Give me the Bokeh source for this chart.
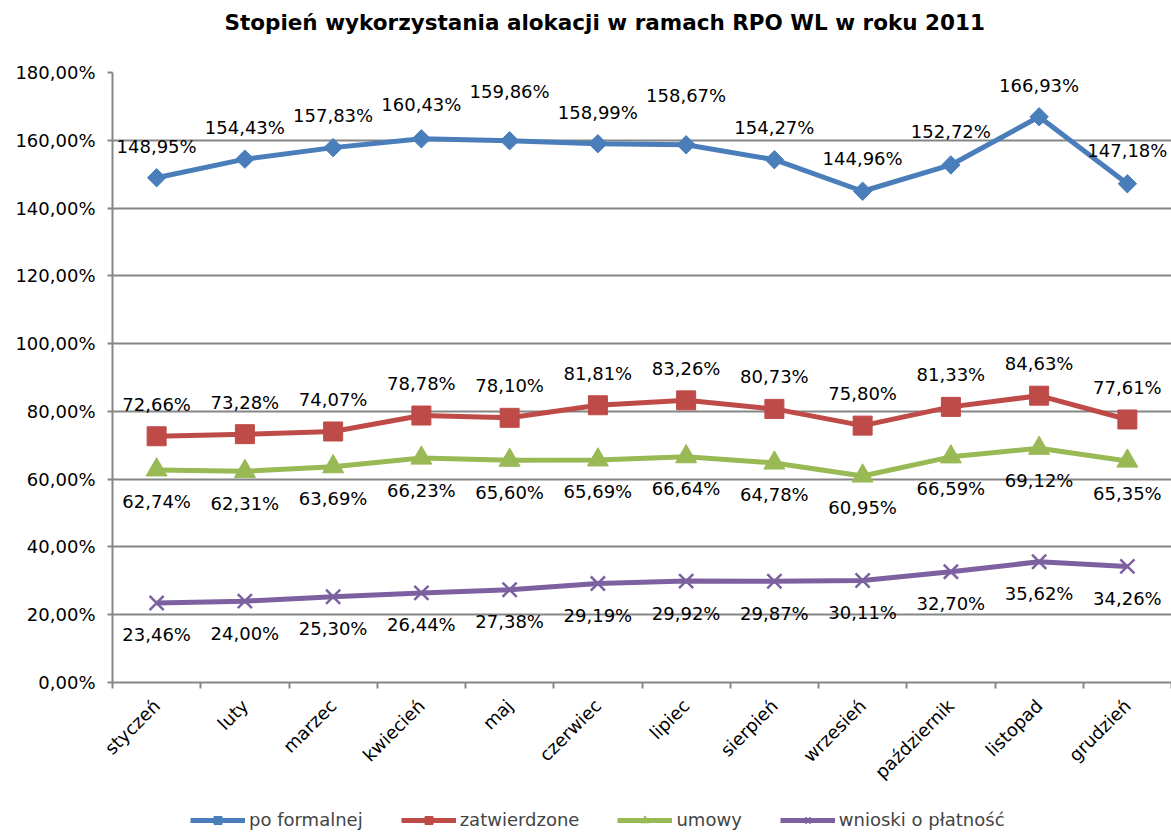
import math
from bokeh.plotting import figure
from bokeh.layouts import column
from bokeh.models import (Range1d, FixedTicker, Legend, LegendItem, ColumnDataSource, Title)
from bokeh.core.properties import value
from bokeh.embed import file_html
from bokeh.resources import INLINE

months = ["styczeń", "luty", "marzec", "kwiecień", "maj", "czerwiec", "lipiec",
          "sierpień", "wrzesień", "październik", "listopad", "grudzień"]
po_formalnej = [148.95, 154.43, 157.83, 160.43, 159.86, 158.99, 158.67, 154.27, 144.96, 152.72, 166.93, 147.18]
zatwierdzone = [72.66, 73.28, 74.07, 78.78, 78.10, 81.81, 83.26, 80.73, 75.80, 81.33, 84.63, 77.61]
umowy = [62.74, 62.31, 63.69, 66.23, 65.60, 65.69, 66.64, 64.78, 60.95, 66.59, 69.12, 65.35]
wnioski = [23.46, 24.00, 25.30, 26.44, 27.38, 29.19, 29.92, 29.87, 30.11, 32.70, 35.62, 34.26]
series_names = ["po formalnej", "zatwierdzone", "umowy", "wnioski o płatność"]
y_ticks = [0, 20, 40, 60, 80, 100, 120, 140, 160, 180]
y_tick_labels = ["0,00%", "20,00%", "40,00%", "60,00%", "80,00%", "100,00%",
                 "120,00%", "140,00%", "160,00%", "180,00%"]

# label vertical offsets (layout only)
blue_dy = [-31, -32, -32, -34, -49, -31, -49, -32, -33, -33, -31, -33]

FONT = "DejaVu Sans"
GRID = "#868686"
FS = "18px"

def fmt(v):
    return ("%.2f%%" % v).replace(".", ",")

xs = [i + 0.5 for i in range(len(months))]

p = figure(width=1171, height=806, output_backend="svg", toolbar_location=None,
           x_range=Range1d(0, len(months)), y_range=Range1d(0, 180),
           min_border_left=112, min_border_right=0, min_border_top=72, min_border_bottom=124)
p.title = None
spacer = Title(text=" ", text_font=FONT, text_font_size="31px", standoff=0)
p.add_layout(spacer, "above")
t = Title(text="Stopień wykorzystania alokacji w ramach RPO WL w roku 2011",
          text_font=FONT, text_font_size="21.5px", text_font_style="bold",
          align="left", offset=112, standoff=0, text_color="black")
p.add_layout(t, "above")
p.outline_line_color = None
p.background_fill_color = "white"
p.border_fill_color = "white"

# axes
p.xaxis.ticker = FixedTicker(ticks=xs, minor_ticks=list(range(len(months) + 1)))
p.xaxis.major_label_overrides = {x: m for x, m in zip(xs, months)}
p.xaxis.major_label_orientation = math.pi / 4
p.xaxis.major_tick_line_color = None
p.xaxis.minor_tick_line_color = GRID
p.xaxis.minor_tick_line_width = 2
p.xaxis.minor_tick_out = 6
p.xaxis.minor_tick_in = 0
p.xaxis.axis_line_color = GRID
p.xaxis.axis_line_width = 2
p.xaxis.major_label_text_font = FONT
p.xaxis.major_label_text_font_size = FS
p.xaxis.major_label_text_color = "black"
p.xaxis.major_label_standoff = 14

p.yaxis.ticker = FixedTicker(ticks=y_ticks)
p.yaxis.major_label_overrides = {t_: l for t_, l in zip(y_ticks, y_tick_labels)}
p.yaxis.major_tick_line_color = GRID
p.yaxis.major_tick_line_width = 2
p.yaxis.major_tick_out = 5
p.yaxis.major_tick_in = 0
p.yaxis.minor_tick_line_color = None
p.yaxis.axis_line_color = GRID
p.yaxis.axis_line_width = 2
p.yaxis.major_label_text_font = FONT
p.yaxis.major_label_text_font_size = FS
p.yaxis.major_label_text_color = "black"
p.yaxis.major_label_standoff = 12

p.xgrid.grid_line_color = None
p.ygrid.ticker = FixedTicker(ticks=y_ticks)
p.ygrid.grid_line_color = GRID
p.ygrid.grid_line_width = 2

# legend strip (its own small figure, same series styling)
lf = figure(width=1171, height=26, output_backend="svg", toolbar_location=None,
            x_range=Range1d(-100, -99), y_range=Range1d(-100, -99), min_border=0)
lf.title = None
lf.axis.visible = False
lf.grid.visible = False
lf.outline_line_color = None
lf.background_fill_color = "white"
lf.border_fill_color = "white"

specs = [
    (po_formalnej, "#4A7EBB", dict(marker="square", size=13, angle=math.pi / 4), blue_dy),
    (zatwierdzone, "#BE4B48", dict(marker="square", size=19), [-32] * 12),
    (umowy, "#98B954", dict(marker="triangle", size=21), [32] * 12),
    (wnioski, "#7D60A0", dict(marker="x", size=20), [32] * 12),
]

def draw(fig, src, color, mk):
    r1 = fig.line("x", "y", source=src, line_color=color, line_width=5)
    if mk["marker"] == "x":
        r2 = fig.scatter("x", "y", source=src, line_color=color, line_width=2.5, **mk)
    else:
        r2 = fig.scatter("x", "y", source=src, fill_color=color, line_color=color, **mk)
    return [r1, r2]

items = []
for (vals, color, mk, dys), name in zip(specs, series_names):
    src = ColumnDataSource(dict(x=xs, y=vals))
    draw(p, src, color, mk)
    items.append(LegendItem(label=name, renderers=draw(lf, src, color, mk)))
    lsrc = ColumnDataSource(dict(x=xs, y=vals, lbl=[fmt(v) for v in vals], dy=dys))
    p.text("x", "y", text="lbl", source=lsrc, y_offset="dy",
           text_align="center", text_baseline="middle",
           text_font=value(FONT), text_font_size=FS, text_color="black")

legend = Legend(items=items, orientation="horizontal", location=(78, 2),
                glyph_width=55, glyph_height=20, label_standoff=4, spacing=38,
                padding=0, margin=0, border_line_color=None,
                label_text_font=FONT, label_text_font_size=FS,
                background_fill_alpha=0)
lf.add_layout(legend, "center")

layout = column(p, lf, spacing=0)
open("out.html", "w").write(file_html(layout, INLINE))
